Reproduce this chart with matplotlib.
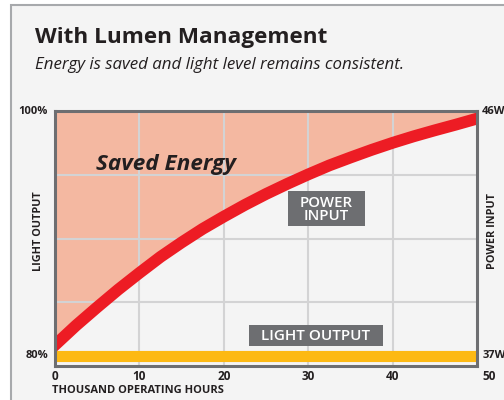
import matplotlib.pyplot as plt
from matplotlib.patches import Rectangle
import numpy as np

# Power input (W), every 2.5 thousand hours
hours = [0, 2.5, 5, 7.5, 10, 12.5, 15, 17.5, 20, 22.5, 25,
         27.5, 30, 32.5, 35, 37.5, 40, 42.5, 45, 47.5, 50]
power = [37.40, 38.12, 38.79, 39.44, 40.05, 40.64, 41.17, 41.67, 42.12, 42.55, 42.95,
         43.32, 43.67, 44.00, 44.29, 44.57, 44.83, 45.07, 45.29, 45.50, 45.72]
light_level = 37  # constant light output drawn at the 80% / 37W level

xticks = [0, 10, 20, 30, 40]
y_bottom, y_top = 36.63, 46

# colours
bg = "#F4F4F4"
salmon = "#F4B8A1"
red = "#ED1C24"
yellow = "#FDB913"
box_gray = "#6D6E71"
grid_gray = "#D3D3D4"
dark = "#231F20"

plt.rcParams['font.family'] = ['Open Sans', 'DejaVu Sans']

fig = plt.figure(figsize=(5.04, 4), dpi=100, facecolor="white")

# panel background with frame
fig.patches.append(Rectangle((11 / 504, -0.1), 1.2, 1 - 5 / 400 + 0.1,
                             transform=fig.transFigure, facecolor=bg,
                             edgecolor="#A7A9AC", linewidth=1.5, zorder=-5))

fig.text(35 / 504, 0.906, "With Lumen Management", fontsize=16.2,
         fontweight="bold", color=dark, va="center", ha="left")
fig.text(35 / 504, 0.8375, "Energy is saved and light level remains consistent.",
         fontsize=12.2, style="italic", color=dark, va="center", ha="left")

ax = fig.add_axes([55 / 504, 34 / 400, 422 / 504, 255 / 400])
ax.set_facecolor(bg)
ax.set_xlim(0, 50)
ax.set_ylim(y_bottom, y_top)

for s in ax.spines.values():
    s.set_color(box_gray)
    s.set_linewidth(2.2)
    s.set_zorder(10)

# saved energy area above the power curve
ax.fill_between(hours, power, y_top, color=salmon, linewidth=0, zorder=1)

# grid
for x in xticks[1:]:
    ax.axvline(x, color=grid_gray, linewidth=1.5, zorder=2)
for y in np.linspace(y_bottom, y_top, 5)[1:-1]:
    ax.axhline(y, color=grid_gray, linewidth=1.5, zorder=2)

ax.plot(hours, power, color=red, linewidth=8.5, solid_capstyle="projecting",
        solid_joinstyle="round", zorder=3)
ax.axhline(light_level, color=yellow, linewidth=8, zorder=4)

ax.set_xticks(xticks)
ax.set_xticklabels([str(t) for t in xticks], fontsize=8.5, fontweight="bold", color=dark)
ax.set_yticks([])
ax.tick_params(axis="x", length=0, pad=3)

# axis end labels
ax.text(-0.017, 1.0, "100%", transform=ax.transAxes, ha="right", va="center",
        fontsize=8, fontweight="bold", color=dark)
ax.annotate("80%", xy=(0, light_level), xycoords=("axes fraction", "data"),
            xytext=(-5, 0), textcoords="offset points", ha="right", va="center",
            fontsize=8, fontweight="bold", color=dark)
ax.text(1.012, 1.0, "46W", transform=ax.transAxes, ha="left", va="center",
        fontsize=8, fontweight="bold", color=dark)
ax.annotate("37W", xy=(1, light_level), xycoords=("axes fraction", "data"),
            xytext=(4, 0), textcoords="offset points", ha="left", va="center",
            fontsize=8, fontweight="bold", color=dark)
ax.text(1.012, -0.04, "50", transform=ax.transAxes, ha="left", va="center",
        fontsize=8.5, fontweight="bold", color=dark)

ax.text(-0.0075, -0.095, "THOUSAND OPERATING HOURS", transform=ax.transAxes,
        ha="left", va="center", fontsize=8, fontweight="bold", color=dark)
ax.text(-0.040, 0.53, "LIGHT OUTPUT", transform=ax.transAxes, rotation=90,
        ha="center", va="center", fontsize=7.8, fontweight="bold", color=dark)
ax.text(1.036, 0.53, "POWER INPUT", transform=ax.transAxes, rotation=90,
        ha="center", va="center", fontsize=7.8, fontweight="bold", color=dark)

# annotations
ax.text(0.263, 0.79, "Saved Energy", transform=ax.transAxes, ha="center", va="center",
        fontsize=16.2, fontweight="bold", style="italic", color=dark, zorder=6)

ax.add_patch(Rectangle((0.552, 0.549), 0.183, 0.137, transform=ax.transAxes,
                       facecolor=box_gray, edgecolor="none", zorder=6))
ax.text(0.6435, 0.614, "POWER\nINPUT", transform=ax.transAxes, ha="center", va="center",
        fontsize=10.8, color="white", fontweight="semibold", linespacing=0.92, zorder=7)

ax.add_patch(Rectangle((0.460, 0.078), 0.317, 0.083, transform=ax.transAxes,
                       facecolor=box_gray, edgecolor="none", zorder=6))
ax.text(0.6185, 0.117, "LIGHT OUTPUT", transform=ax.transAxes, ha="center", va="center",
        fontsize=11, color="white", fontweight="semibold", zorder=7)

fig.savefig("out.png", dpi=100, facecolor=fig.get_facecolor())
